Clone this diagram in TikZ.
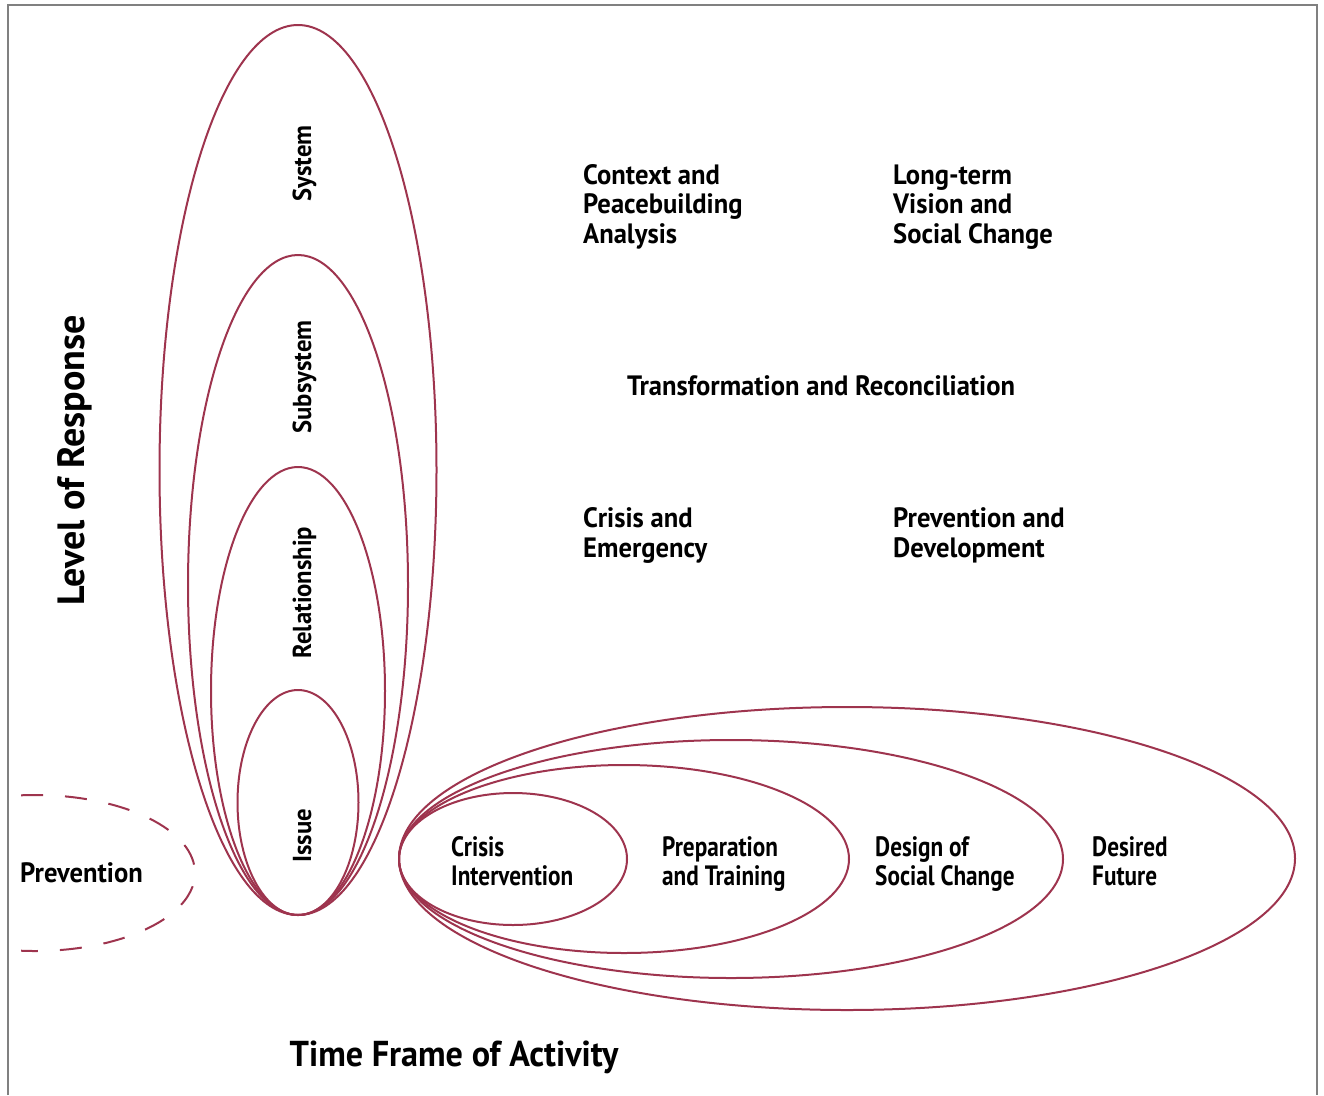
\documentclass[tikz,border=0pt]{standalone}
\usepackage{fontspec}
\setmainfont{PT Sans}
\newfontfamily\mainlab[FakeStretch=0.95]{PT Sans}
\newfontfamily\narrowlab[FakeStretch=0.83]{PT Sans}
\usepackage{tikz}
\usetikzlibrary{positioning}
\definecolor{ellred}{RGB}{158,52,78}

\begin{document}
\begin{tikzpicture}[x=1pt,y=-1pt,
		ring/.style={draw=ellred,line width=2pt},
		frameline/.style={draw=gray,line width=2pt},
		lab/.style={font=\mainlab\bfseries\fontsize{28}{29.5}\selectfont,align=left,inner sep=0pt},
		inlab/.style={font=\narrowlab\bfseries\fontsize{28}{29}\selectfont,align=left,inner sep=0pt},
		vlab/.style={font=\mainlab\bfseries\fontsize{26}{28}\selectfont,rotate=90,inner sep=0pt,anchor=base},
		axislab/.style={font=\bfseries\fontsize{38}{40}\selectfont,inner sep=0pt,anchor=base}]
			\useasboundingbox (0,0) rectangle (1324,1095);
			\draw[frameline] (8,1095) -- (8,5) -- (1317,5) -- (1317,1095);
			\draw[ring] (298,470) ellipse [x radius=138.5, y radius=445];
			\draw[ring] (298,585) ellipse [x radius=110, y radius=330];
			\draw[ring] (298,691) ellipse [x radius=87, y radius=224];
			\draw[ring] (298,802.5) ellipse [x radius=60.5, y radius=112.5];
			\draw[ring] (513,859) ellipse [x radius=114, y radius=66];
			\draw[ring] (624,859) ellipse [x radius=225, y radius=94];
			\draw[ring] (731,859) ellipse [x radius=332, y radius=119];
			\draw[ring] (847,858.5) ellipse [x radius=448, y radius=151.5];
			\draw[ring,dash pattern=on 22pt off 22pt] (35,873) ++(-95:160 and 78) arc[start angle=-95, end angle=95, x radius=160, y radius=78];
			\node[vlab] (system) at (311,163.5) {System};
			\node[vlab] (subsystem) at (311,377) {Subsystem};
			\node[vlab] (relationship) at (311,592.5) {Relationship};
			\node[vlab] (issue) at (311,836) {Issue};
			\node[inlab,anchor=base west] (crisisint) at (451,885) {Crisis\\Intervention};
			\node[inlab,anchor=base west] (preparation) at (662,885) {Preparation\\and Training};
			\node[inlab,anchor=base west] (design) at (875,885) {Design of\\Social Change};
			\node[inlab,anchor=base west] (desired) at (1092,885) {Desired\\Future};
			\node[lab,anchor=base west] (context) at (583,243) {Context and\\Peacebuilding\\Analysis};
			\node[lab,anchor=base west] (vision) at (893,243) {Long-term\\Vision and\\Social Change};
			\node[lab,anchor=base west] (transform) at (627,395) {Transformation and Reconciliation};
			\node[lab,anchor=base west] (crisisem) at (583,557) {Crisis and\\Emergency};
			\node[lab,anchor=base west] (development) at (893,557) {Prevention and\\Development};
			\node[lab,anchor=base west] (prevention) at (20,882) {Prevention};
			\node[axislab,rotate=90] (level) at (84,460.5) {Level of Response};
			\node[axislab,font=\mainlab\bfseries\fontsize{36}{38}\selectfont] (timeframe) at (454,1066) {Time Frame of Activity};
		\end{tikzpicture}
\end{document}
